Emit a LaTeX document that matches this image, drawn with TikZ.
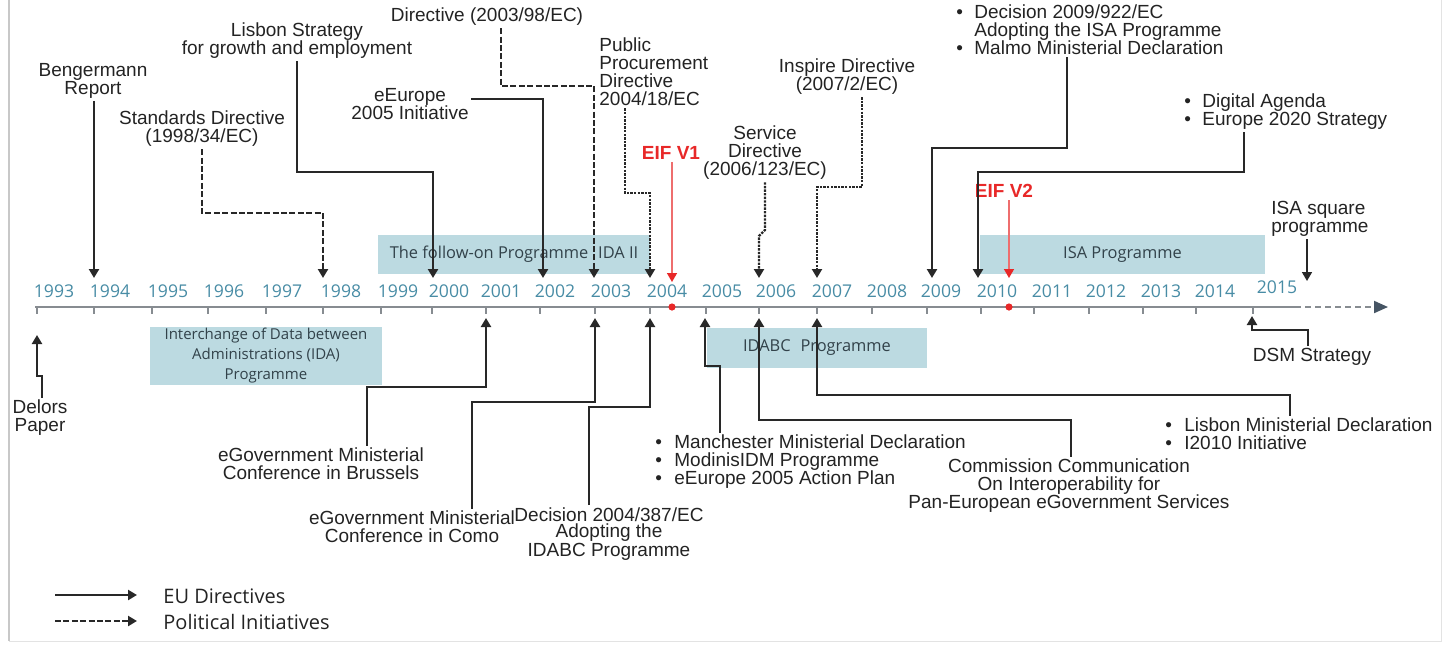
\documentclass[tikz,border=0pt]{standalone}
\usepackage{fontspec}
\setmainfont{Liberation Sans}
\newfontfamily\osans{Open Sans}
\usetikzlibrary{arrows.meta,calc}
\definecolor{linec}{RGB}{40,40,40}
\definecolor{txt}{RGB}{35,35,35}
\definecolor{yearc}{RGB}{72,140,165}
\definecolor{boxc}{RGB}{188,218,225}
\definecolor{boxtxt}{RGB}{50,66,74}
\definecolor{axisc}{RGB}{135,140,145}
\definecolor{axisdark}{RGB}{70,85,100}
\definecolor{eifred}{RGB}{232,40,40}
\definecolor{eifline}{RGB}{238,110,110}
\definecolor{framec}{RGB}{200,200,200}
\begin{document}
\begin{tikzpicture}[x=0.5pt,y=-0.5pt,
  lbl/.style={text=txt, inner sep=1pt, font=\fontsize{9.5}{9}\selectfont, align=center},
  lbll/.style={lbl, align=left},
  year/.style={text=yearc, inner sep=0pt, font=\osans\fontsize{8.8}{9}\selectfont},
  prog/.style={fill=boxc, draw=none, inner sep=0pt, text=boxtxt, align=center, font=\osans\fontsize{8.2}{9}\selectfont},
  conn/.style={draw=linec, line width=1.2pt, -{Triangle[length=4.5pt,width=5pt]}},
  dconn/.style={conn, line width=1.3pt, dash pattern=on 3pt off 1.2pt},
  fconn/.style={conn, line width=1.1pt, dash pattern=on 1.2pt off 0.6pt},
  eifarrow/.style={draw=eifline, line width=0.7pt, -{Triangle[length=4.5pt,width=5pt,color=eifred]}},
  eiflbl/.style={text=eifred, inner sep=1pt, font=\bfseries\fontsize{9.5}{9}\selectfont},
  tickmark/.style={draw=axisc, line width=0.7pt},
  legtxt/.style={text=txt, inner sep=0pt, font=\osans\fontsize{10}{10}\selectfont},
]
\useasboundingbox (0,0) rectangle (1446,645);
% faint frame
\draw[framec, line width=0.6pt] (9,0) -- (9,641);
\draw[framec!50, line width=0.5pt] (9,641) -- (1441,641) -- (1441,0);

% programme boxes
\node[prog, minimum width=136pt, minimum height=19.5pt] (idaII) at (514,254.5) {The follow-on Programme\hspace{0.6em}IDA II};
\node[prog, minimum width=142.5pt, minimum height=19.5pt] (isa) at (1122.5,254.5) {ISA Programme};
\node[prog, minimum width=116pt, minimum height=29pt, font=\osans\fontsize{7.5}{10}\selectfont] (ida) at (266,356) {Interchange of Data between\\Administrations (IDA)\\Programme};
\node[prog, minimum width=110pt, minimum height=20pt] (idabc) at (817,348) {IDABC\hspace{0.6em}Programme};

% axis
\coordinate (ax0) at (35,307);
\coordinate (ax1) at (1295,307);
\coordinate (ax2) at (1388,307);
\draw[axisc, line width=1pt] (ax0) -- (ax1);
\draw[axisc, line width=1pt, dash pattern=on 3pt off 2pt, -{Triangle[length=7pt,width=6pt,color=axisdark]}] (ax1) -- (ax2);
\foreach \x in {37,94,152,208,266,323,381,432,486,540,595,650,706,759,817,872,927,981,1034,1089,1143,1196,1253}
  \draw[tickmark] (\x,307) -- (\x,314);
\foreach \yr/\x in {1993/54,1994/110,1995/168,1996/224,1997/282,1998/341,1999/398,2000/449,2001/501,2002/555,2003/611,2004/667,2005/722,2006/776,2007/832,2008/887,2009/941,2010/997,2011/1052,2012/1106,2013/1161,2014/1215}
  \node[year] (yr\yr) at (\x,291) {\yr};
\node[year] (yr2015) at (1277,287) {2015};
\fill[eifred] (672,307) circle (1.8pt);
\fill[eifred] (1009,307) circle (1.8pt);

% arrow tips on the axis (top)
\coordinate (a1994) at (94,278);
\coordinate (a1998) at (323,278);
\coordinate (a2000) at (433,278);
\coordinate (a2002) at (543,278);
\coordinate (a2003) at (594,278);
\coordinate (a2004) at (650,278);
\coordinate (a2006) at (759,278);
\coordinate (a2007) at (817,278);
\coordinate (a2009) at (932,278);
\coordinate (a2010) at (978,278);
\coordinate (a2015) at (1307,281);
\coordinate (e1tip) at (672,282);
\coordinate (e2tip) at (1009,278);
% bends (top)
\coordinate (k1998) at (323,213);
\coordinate (k2000) at (433,172);
\coordinate (k2002) at (543,99);
\coordinate (k2003) at (501,86);
\coordinate (k2004) at (625,193);
\coordinate (k2006a) at (765,230);
\coordinate (k2006b) at (759,236);
\coordinate (k2007) at (862,187);
\coordinate (k2009) at (1067,148);
\coordinate (k2010) at (1244,172);

% arrow tips on the axis (bottom)
\coordinate (b1993) at (37,335);
\coordinate (b2001) at (486,318);
\coordinate (b2003) at (595,318);
\coordinate (b2004) at (650,318);
\coordinate (b2005) at (705,318);
\coordinate (b2006) at (759,318);
\coordinate (b2007) at (817,318);
\coordinate (b2015) at (1252,316);
% bends (bottom)
\coordinate (k1993a) at (37,376);
\coordinate (k1993b) at (42,376);
\coordinate (k2001) at (367,387);
\coordinate (k2003b) at (472,402);
\coordinate (k2004b) at (589,407);
\coordinate (k2005) at (720,366);
\coordinate (k2006c) at (1071,420);
\coordinate (k2007b) at (1290,395);
\coordinate (k2015b) at (1308,330);

% top labels
\node[lbl] (bengermann) at (93,81) {Bengermann\\Report};
\node[lbl] (standards) at (202,129) {Standards Directive\\(1998/34/EC)};
\node[lbl] (lisbonS) at (297,41) {Lisbon Strategy\\for growth and employment};
\node[lbl] (eeurope) at (410,104) {eEurope\\2005 Initiative};
\node[lbl] (psi) at (487,17) {Directive (2003/98/EC)};
\node[lbll, anchor=west] (ppd) at (597,72) {Public\\Procurement\\Directive\\2004/18/EC};
\node[eiflbl] (eif1) at (671,153) {EIF V1};
\node[lbl] (service) at (765,153) {Service\\Directive\\(2006/123/EC)};
\node[lbl] (inspire) at (847,77) {Inspire Directive\\(2007/2/EC)};
\node[lbll, anchor=west] (isadec) at (954,30) {\makebox[9pt][l]{\textbullet}Decision 2009/922/EC\\\hspace*{9pt}Adopting the ISA Programme\\\makebox[9pt][l]{\textbullet}Malmo Ministerial Declaration};
\node[lbll, anchor=west] (digital) at (1182,112) {\makebox[9pt][l]{\textbullet}Digital Agenda\\\makebox[9pt][l]{\textbullet}Europe 2020 Strategy};
\node[eiflbl] (eif2) at (1004,191) {EIF V2};
\node[lbll, anchor=west] (isasq) at (1269,219) {ISA square\\programme};

% bottom labels
\node[lbl] (delors) at (40,418) {Delors\\Paper};
\node[lbl] (brussels) at (321,464) {eGovernment Ministerial\\Conference in Brussels};
\node[lbl] (como) at (412,527) {eGovernment Ministerial\\Conference in Como};
\node[lbl, font=\fontsize{9.5}{8}\selectfont] (decision) at (609,534) {Decision 2004/387/EC\\Adopting the\\IDABC Programme};
\node[lbll, anchor=west] (manchester) at (653,462) {\makebox[9.5pt][l]{\textbullet}Manchester Ministerial Declaration\\\makebox[9.5pt][l]{\textbullet}ModinisIDM Programme\\\makebox[9.5pt][l]{\textbullet}eEurope 2005 Action Plan};
\node[lbl] (commission) at (1069,486) {Commission Communication\\On Interoperability for\\Pan-European eGovernment Services};
\node[lbll, anchor=west] (lisbonM) at (1163,434) {\makebox[9.5pt][l]{\textbullet}Lisbon Ministerial Declaration\\\makebox[9.5pt][l]{\textbullet}I2010 Initiative};
\node[lbl] (dsm) at (1312,357) {DSM Strategy};

% top connectors
\draw[conn] (bengermann.south -| a1994) -- (a1994);
\draw[dconn] (standards.south) -- (standards.south |- k1998) -- (k1998) -- (a1998);
\draw[conn] (lisbonS.south) -- (lisbonS.south |- k2000) -- (k2000) -- (a2000);
\draw[conn] (eeurope.east |- k2002) -- (k2002) -- (a2002);
\draw[dconn] (psi.south -| k2003) -- (k2003) -| (a2003);
\draw[fconn] (ppd.south -| k2004) -- (k2004) -| (a2004);
\draw[eifarrow] (eif1.south -| e1tip) -- (e1tip);
\draw[fconn] (service.south -| k2006a) -- (k2006a) -- (k2006b) -- (a2006);
\draw[fconn] (inspire.south -| k2007) -- (k2007) -| (a2007);
\draw[conn] (isadec.south -| k2009) -- (k2009) -| (a2009);
\draw[conn] (digital.south -| k2010) -- (k2010) -| (a2010);
\draw[eifarrow] (eif2.south -| e2tip) -- (e2tip);
\draw[conn, line width=0.8pt] (isasq.south -| a2015) -- (a2015);

% bottom connectors
\draw[conn] (delors.north -| k1993b) -- (k1993b) -- (k1993a) -- (b1993);
\draw[conn] (brussels.north -| k2001) -- (k2001) -| (b2001);
\draw[conn] (como.north -| k2003b) -- (k2003b) -| (b2003);
\draw[conn] (decision.north -| k2004b) -- (k2004b) -| (b2004);
\draw[conn] (manchester.north -| k2005) -- (k2005) -| (b2005);
\draw[conn] (commission.north -| k2006c) -- (k2006c) -| (b2006);
\draw[conn] (lisbonM.north -| k2007b) -- (k2007b) -| (b2007);
\draw[conn] (dsm.north -| k2015b) -- (k2015b) -| (b2015);

% legend
\coordinate (lgA1) at (55,595);
\coordinate (lgA2) at (137,595);
\coordinate (lgB1) at (55,621);
\coordinate (lgB2) at (137,621);
\draw[conn] (lgA1) -- (lgA2);
\draw[dconn] (lgB1) -- (lgB2);
\node[legtxt, anchor=west] (lgEU) at (163,596) {EU Directives};
\node[legtxt, anchor=west] (lgPI) at (163,622) {Political Initiatives};
\end{tikzpicture}
\end{document}
